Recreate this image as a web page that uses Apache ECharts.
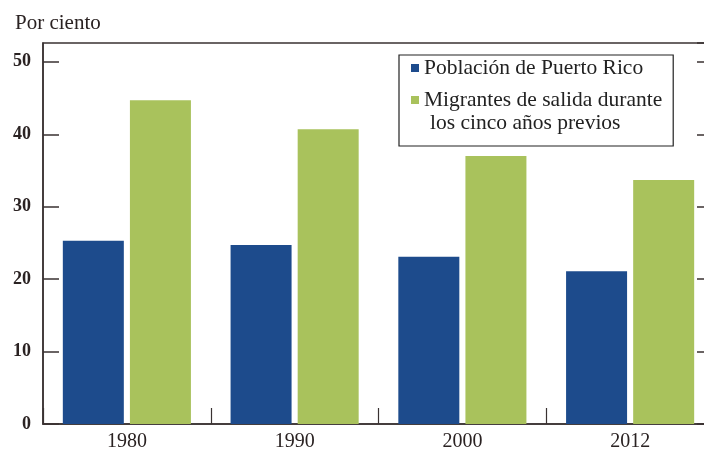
<!DOCTYPE html>
<html>
<head>
<meta charset="utf-8">
<script src="https://cdn.jsdelivr.net/npm/echarts@6/dist/echarts.min.js"></script>
<style>
html,body{margin:0;padding:0;background:#fff;}
#chart{width:704px;height:449px;}
</style>
</head>
<body>
<div id="chart"></div>
<script>
const categories = ['1980', '1990', '2000', '2012'];
const poblacion = [25.3, 24.7, 23.1, 21.1];
const migrantes = [44.7, 40.7, 37.0, 33.7];
const seriesNames = ['Población de Puerto Rico', 'Migrantes de salida durante'];
const legendExtraLine = 'los cinco años previos';
const yTitle = 'Por ciento';

const serif = '"Liberation Serif", "DejaVu Serif", serif';
const axisColor = '#3a3232';

const chart = echarts.init(document.getElementById('chart'), null, {renderer: 'canvas'});
chart.setOption({
  animation: false,
  backgroundColor: '#ffffff',
  title: {
    text: yTitle,
    left: 10, top: 8,
    textStyle: {fontFamily: serif, fontSize: 21, fontWeight: 'normal', color: '#2a2222'}
  },
  legend: {
    data: seriesNames,
    left: 399, top: 55,
    orient: 'vertical',
    itemWidth: 8, itemHeight: 8,
    itemGap: 10,
    icon: 'rect',
    borderColor: '#222', borderWidth: 1.2,
    padding: [2, 11, 35, 12],
    textStyle: {fontFamily: serif, fontSize: 21.5, color: '#222', lineHeight: 21}
  },
  graphic: [{
    type: 'text', left: 430, top: 112,
    style: {text: legendExtraLine, font: '21.5px ' + serif, fill: '#222'}
  }],
  grid: {
    left: 43, top: 43, bottom: 25, width: 671,
    containLabel: false,
    outerBoundsMode: 'none',
    show: true, borderColor: axisColor, borderWidth: 1.5
  },
  xAxis: {
    type: 'category', data: categories,
    axisLine: {lineStyle: {color: axisColor, width: 1.5}},
    axisTick: {show: true, inside: true, length: 16, lineStyle: {color: axisColor, width: 1.2}},
    axisLabel: {fontFamily: serif, fontSize: 20, color: '#2a2222', margin: 8}
  },
  yAxis: [{
    type: 'value', min: 0, max: 52.6, interval: 10,
    axisLine: {show: true, lineStyle: {color: axisColor, width: 1.5}},
    axisTick: {show: true, inside: true, length: 16, lineStyle: {color: axisColor, width: 1.5}},
    axisLabel: {fontFamily: serif, fontSize: 18, fontWeight: 'bold', color: '#2a2222', margin: 12, showMaxLabel: false},
    splitLine: {show: false}
  }, {
    type: 'value', min: 0, max: 52.6, interval: 10, position: 'right',
    axisLine: {show: true, lineStyle: {color: axisColor, width: 1.5}},
    axisTick: {show: true, inside: true, length: 17, lineStyle: {color: axisColor, width: 1.5}},
    axisLabel: {show: false},
    splitLine: {show: false}
  }],
  series: [{
    name: seriesNames[0], type: 'bar', data: poblacion,
    barWidth: 61, barGap: '10%',
    itemStyle: {color: '#1d4b8c'}
  }, {
    name: seriesNames[1], type: 'bar', data: migrantes,
    barWidth: 61, barGap: '10%',
    itemStyle: {color: '#a9c25c'}
  }]
});
</script>
</body>
</html>
